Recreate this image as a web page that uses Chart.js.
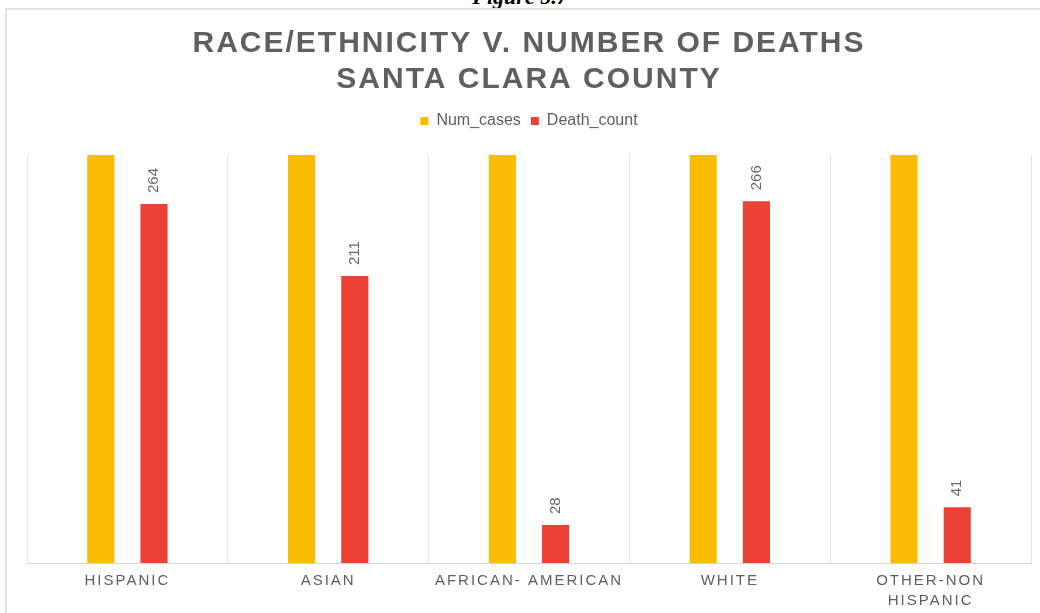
<!DOCTYPE html>
<html>
<head>
<meta charset="utf-8">
<script src="https://cdn.jsdelivr.net/npm/chart.js@4.4.1/dist/chart.umd.min.js"></script>
<style>
    html, body {
        margin: 0;
        padding: 0;
        background: #ffffff;
        width: 1040px;
        height: 613px;
        overflow: hidden;
    }
    .fig-caption {
        position: absolute;
        left: 0;
        width: 1040px;
        top: -14px;
        text-align: center;
        font-family: "Liberation Serif", "Times New Roman", serif;
        font-weight: bold;
        font-style: italic;
        font-size: 22px;
        line-height: 22px;
        color: #000;
    }
    .frame {
        position: absolute;
        left: 5px;
        top: 8px;
        width: 1035px;
        height: 605px;
        border-left: 2px solid #e3e3e3;
        border-top: 2px solid #e3e3e3;
    }
    #race-chart {
        position: absolute;
        left: 0;
        top: 0;
    }
</style>
</head>
<body>
<div class="fig-caption">Figure 5.7</div>
<div class="frame">
    <canvas id="race-chart" width="1033" height="603"></canvas>
</div>
<script>
// Data
const categories = ['HISPANIC', 'ASIAN', 'AFRICAN- AMERICAN', 'WHITE', ['OTHER-NON', 'HISPANIC']];
const numCases = [45000, 20000, 2500, 14000, 4000];
const deathCount = [264, 211, 28, 266, 41];
const seriesNames = ['Num_cases', 'Death_count'];
const titleLines = ['RACE/ETHNICITY V. NUMBER OF DEATHS', 'SANTA CLARA COUNTY'];

const textGray = '#5f5f5f';
const fontFamily = '"Liberation Sans", Arial, sans-serif';

// Rotated value labels above the death count bars
const barValueLabels = {
    id: 'barValueLabels',
    afterDatasetsDraw(chart) {
        const ctx = chart.ctx;
        const meta = chart.getDatasetMeta(1);
        ctx.save();
        ctx.font = '15px ' + fontFamily;
        ctx.fillStyle = '#6a6a6a';
        ctx.textAlign = 'left';
        ctx.textBaseline = 'middle';
        meta.data.forEach((bar, i) => {
            ctx.save();
            ctx.translate(bar.x, bar.y - 11);
            ctx.rotate(-Math.PI / 2);
            ctx.fillText(String(deathCount[i]), 0, 0);
            ctx.restore();
        });
        ctx.restore();
    }
};

// Wrap a draw function so its text is letter-spaced
function withSpacing(obj, method, spacing) {
    const orig = obj[method].bind(obj);
    obj[method] = function (...args) {
        const c = this.ctx;
        c.save();
        c.letterSpacing = spacing;
        orig(...args);
        c.restore();
    };
}

// Spaced title / axis lettering, plus extra room under the legend
const chartTweaks = {
    id: 'chartTweaks',
    afterInit(chart) {
        withSpacing(chart.titleBlock, 'draw', '2px');
        const legend = chart.legend;
        const fit = legend.fit.bind(legend);
        legend.fit = function () {
            fit();
            this.height += 16;
        };
    },
    beforeDraw(chart) {
        const scale = chart.scales.x;
        if (scale._spaced) return;
        withSpacing(scale, 'drawLabels', '2px');
        scale._spaced = true;
    }
};

const ctx = document.getElementById('race-chart').getContext('2d');

new Chart(ctx, {
    type: 'bar',
    data: {
        labels: categories,
        datasets: [
            {
                label: seriesNames[0],
                data: numCases,
                backgroundColor: '#fbbc04',
                categoryPercentage: 0.53,
                barPercentage: 0.51
            },
            {
                label: seriesNames[1],
                data: deathCount,
                backgroundColor: '#ea4335',
                categoryPercentage: 0.53,
                barPercentage: 0.51
            }
        ]
    },
    options: {
        responsive: false,
        animation: false,
        devicePixelRatio: 1,
        layout: {
            padding: { top: 8, right: 9, bottom: -6, left: 20 }
        },
        scales: {
            x: {
                grid: {
                    display: true,
                    offset: true,
                    color: '#e2e2e2',
                    drawTicks: false
                },
                border: { display: true, color: '#d6d6d6' },
                ticks: {
                    color: textGray,
                    padding: 8,
                    maxRotation: 0,
                    autoSkip: false,
                    font: { family: fontFamily, size: 15, lineHeight: 1.33 }
                }
            },
            y: {
                display: false,
                min: 0,
                max: 300
            }
        },
        plugins: {
            title: {
                display: true,
                text: titleLines,
                color: textGray,
                padding: { top: 8, bottom: 5 },
                font: { family: fontFamily, size: 30, weight: 'bold', lineHeight: 1.2 }
            },
            legend: {
                display: true,
                labels: {
                    color: textGray,
                    boxWidth: 8,
                    boxHeight: 8,
                    padding: 10,
                    font: { family: fontFamily, size: 16 }
                }
            },
            tooltip: { enabled: false }
        }
    },
    plugins: [chartTweaks, barValueLabels]
});
</script>
</body>
</html>
